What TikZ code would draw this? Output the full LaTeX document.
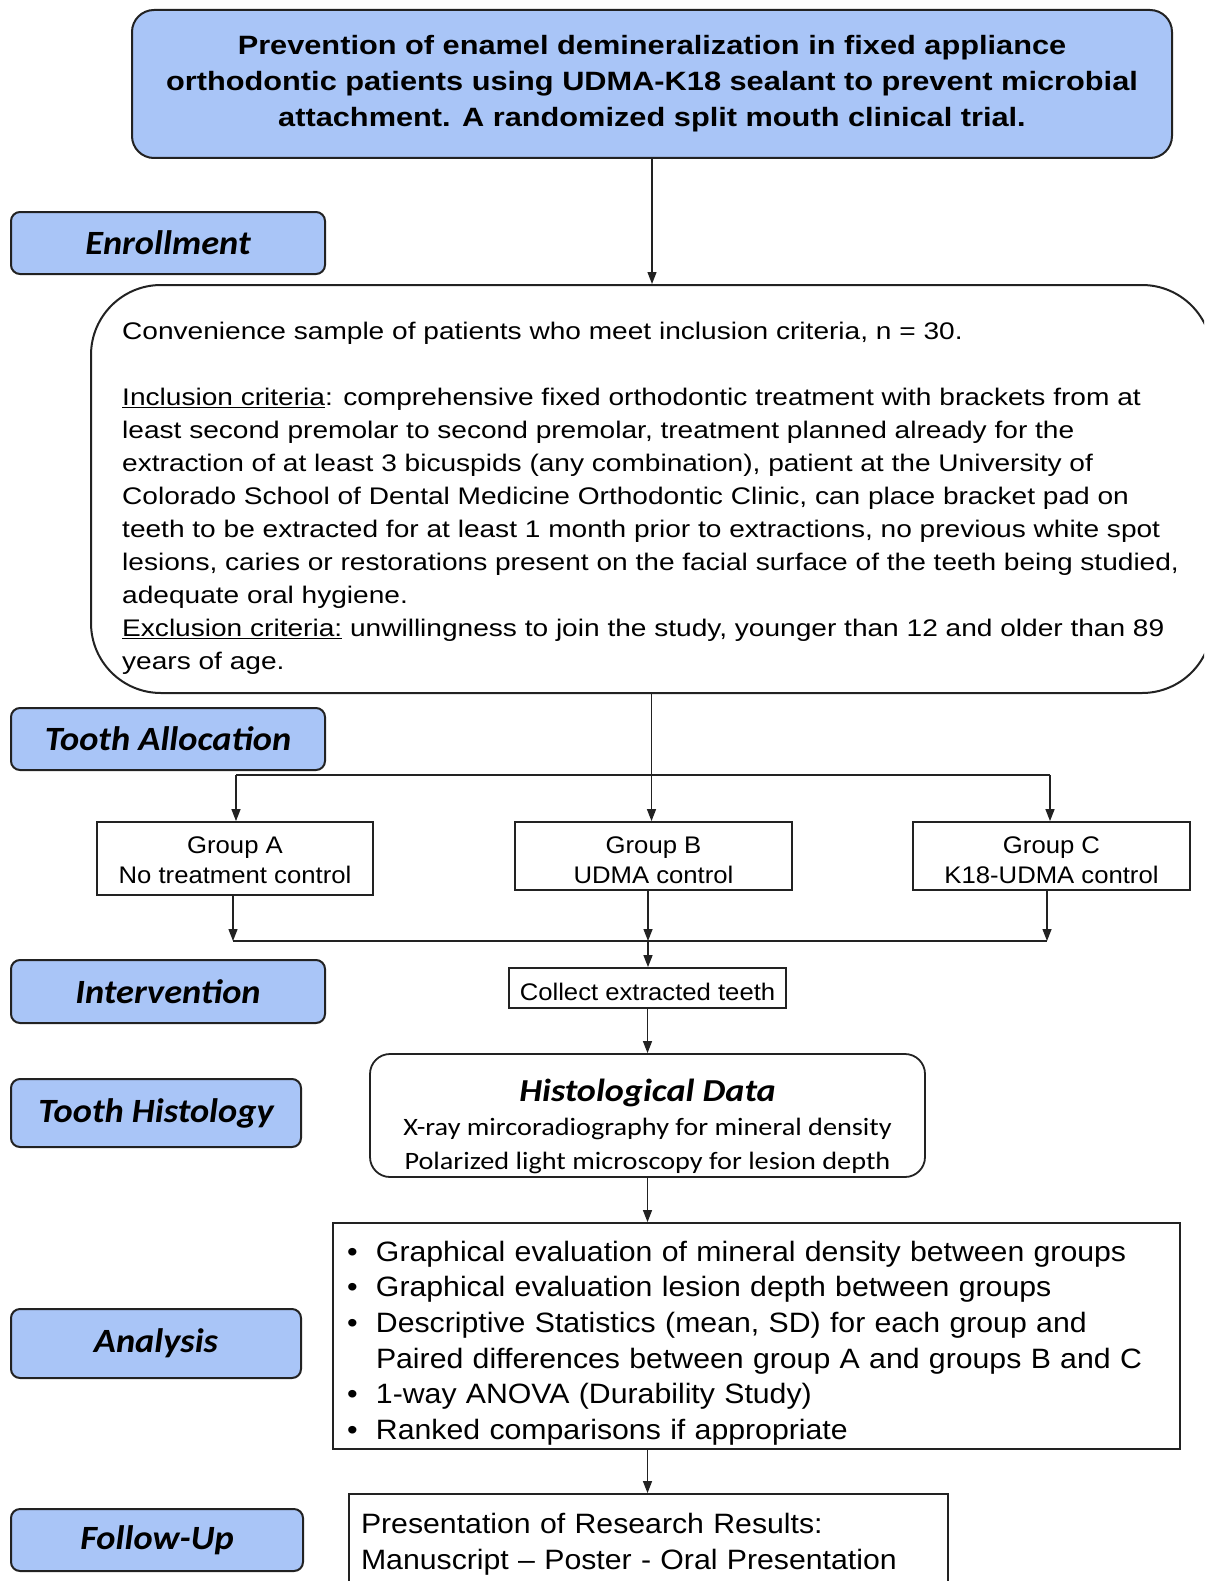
\documentclass[tikz,border=0pt]{standalone}
\usepackage{fontspec}
\setmainfont{Liberation Sans}
\newfontfamily\titlefont[FakeStretch=1.16]{Liberation Sans}
\newfontfamily\bodyfont[FakeStretch=1.17]{Liberation Sans}
\newfontfamily\grpfont[FakeStretch=1.07]{Liberation Sans}
\newfontfamily\analfont[FakeStretch=1.08]{Liberation Sans}
\newfontfamily\labfont[FakeStretch=1.07]{Carlito}
\newfontfamily\histfont[FakeStretch=1.13]{Carlito}
\usetikzlibrary{arrows.meta}
\definecolor{boxblue}{HTML}{A9C5F7}
\definecolor{edge}{HTML}{222222}
\begin{document}
\begin{tikzpicture}[x=1pt,y=-1pt,
  phase/.style={draw=edge, line width=2pt, fill=boxblue, rounded corners=9pt,
    minimum width=314pt, minimum height=62pt, inner sep=0pt,
    font=\labfont\bfseries\itshape\fontsize{34}{40}\selectfont},
  plainbox/.style={draw=edge, line width=1.8pt, inner sep=0pt, align=center,
    font=\grpfont\fontsize{24}{30}\selectfont},
  txt/.style={inner sep=0pt},
  conn/.style={draw=edge, line width=1.3pt},
  arr/.style={conn, -{Triangle[length=12pt,width=9pt]}},
]
\useasboundingbox (0,0) rectangle (1204,1581);
\clip (0,0) rectangle (1204,1581);

% title
\node[draw=edge, line width=2pt, fill=boxblue, rounded corners=22pt,
  minimum width=1040pt, minimum height=148pt, inner sep=0pt, align=center,
  font=\titlefont\bfseries\fontsize{26.5}{36}\selectfont] (title) at (652,84)
  {Prevention of enamel demineralization in fixed appliance\\
   orthodontic patients using UDMA-K18 sealant to prevent microbial\\
   attachment. A randomized split mouth clinical trial.};

% phase labels
\node[phase] (pEnroll) at (168,243) {Enrollment};
\node[phase] (pAlloc) at (168,739) {Tooth Allocation};
\node[phase, minimum height=63pt] (pInterv) at (168,991.5) {Intervention};
\node[phase, minimum width=290pt, minimum height=68pt] (pHisto) at (156,1113) {Tooth Histology};
\node[phase, minimum width=290pt, minimum height=69pt] (pAnal) at (156,1343.5) {Analysis};
\node[phase, minimum width=292pt, minimum height=62pt] (pFollow) at (157,1540) {Follow-Up};

% enrollment box
\node[draw=edge, line width=2pt, rounded corners=70pt, minimum width=1121pt,
  minimum height=408pt, inner sep=0pt] (enroll) at (651.5,489) {};
\node[txt, anchor=north west, align=left,
  font=\bodyfont\fontsize{24}{33}\selectfont] (enrolltxt) at (122,322)
  {Convenience sample of patients who meet inclusion criteria, n = 30.\\[33pt]
   \underline{Inclusion criteria}: comprehensive fixed orthodontic treatment with brackets from at\\
   least second premolar to second premolar, treatment planned already for the\\
   extraction of at least 3 bicuspids (any combination), patient at the University of\\
   Colorado School of Dental Medicine Orthodontic Clinic, can place bracket pad on\\
   teeth to be extracted for at least 1 month prior to extractions, no previous white spot\\
   lesions, caries or restorations present on the facial surface of the teeth being studied,\\
   adequate oral hygiene.\\
   \underline{Exclusion criteria:} unwillingness to join the study, younger than 12 and older than 89\\
   years of age.};

% groups
\node[plainbox, minimum width=276pt, minimum height=73pt] (grpA) at (235,858.5) {};
\node[plainbox, draw=none] (grpAtxt) at (235,860.5) {Group A\\No treatment control};
\node[plainbox, minimum width=277pt, minimum height=68pt] (grpB) at (653.5,856) {};
\node[plainbox, draw=none] (grpBtxt) at (653.5,860.5) {Group B\\UDMA control};
\node[plainbox, minimum width=277pt, minimum height=68pt] (grpC) at (1051.5,856) {};
\node[plainbox, draw=none] (grpCtxt) at (1051.5,860.5) {Group C\\K18-UDMA control};

\node[plainbox, minimum width=277pt, minimum height=40pt] (collect) at (647.5,988)
  {\raisebox{-4pt}[\height][\depth]{Collect extracted teeth}};

\node[draw=edge, line width=1.8pt, rounded corners=20pt, minimum width=555pt,
  minimum height=123pt, inner sep=0pt] (histo) at (647.5,1115.5) {};
\node[txt, align=center, font=\histfont\fontsize{25}{34}\selectfont] (histotxt) at (647.5,1126)
  {{\bfseries\itshape\fontsize{32}{37}\selectfont Histological Data}\\
   X-ray mircoradiography for mineral density\\
   Polarized light microscopy for lesion depth};

\node[plainbox, minimum width=847pt, minimum height=226pt] (anal) at (756.5,1336) {};
\node[txt, align=left, text width=819pt, font=\analfont\fontsize{28}{35.7}\selectfont] (analtxt) at (756.5,1343)
  {\makebox[29pt][l]{•}Graphical evaluation of mineral density between groups\\
   \makebox[29pt][l]{•}Graphical evaluation lesion depth between groups\\
   \makebox[29pt][l]{•}Descriptive Statistics (mean, SD) for each group and\\
   \makebox[29pt][l]{}Paired differences between group A and groups B and C\\
   \makebox[29pt][l]{•}1-way ANOVA (Durability Study)\\
   \makebox[29pt][l]{•}Ranked comparisons if appropriate};

\node[plainbox, minimum width=599pt, minimum height=94pt] (follow) at (648.5,1541) {};
\node[txt, align=left, text width=575pt, font=\analfont\fontsize{28}{36}\selectfont] (followtxt) at (648.5,1544)
  {Presentation of Research Results:\\
   Manuscript – Poster - Oral Presentation};

% connectors
\draw[arr] (title.south) -- (title.south |- enroll.north);
\draw[arr] (enroll.south) -- (enroll.south |- grpB.north);
\coordinate (splitL) at (236,775);
\coordinate (splitR) at (1050,775);
\draw[conn] (splitL) -- (splitR);
\draw[arr] (splitL) -- (splitL |- grpA.north);
\draw[arr] (splitR) -- (splitR |- grpC.north);

\coordinate (mergeL) at (233,941);
\coordinate (mergeM) at (648,941);
\coordinate (mergeR) at (1047,941);
\draw[conn] (mergeL) -- (mergeR);
\draw[arr] (mergeL |- grpA.south) -- (mergeL);
\draw[arr] (mergeM |- grpB.south) -- (mergeM);
\draw[arr] (mergeR |- grpC.south) -- (mergeR);
\draw[arr] (mergeM) -- (mergeM |- collect.north);

\draw[arr] (collect.south) -- (histo.north);
\draw[arr] (histo.south) -- (histo.south |- anal.north);
\draw[arr] (histo.south |- anal.south) -- (histo.south |- follow.north);
\end{tikzpicture}
\end{document}
